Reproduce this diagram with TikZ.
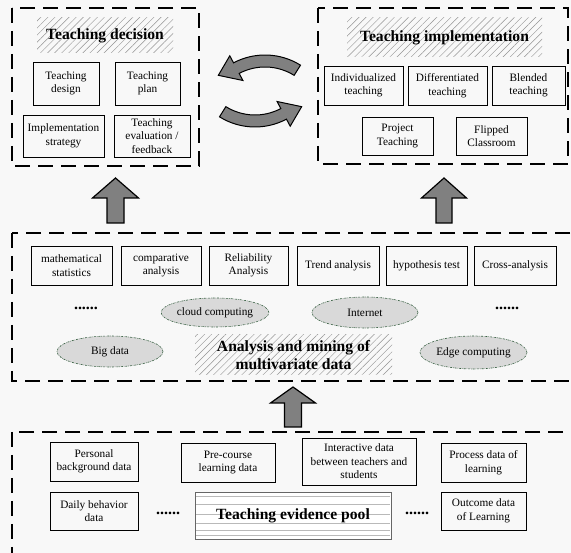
\documentclass[tikz,border=0pt]{standalone}
\usepackage{fontspec}
\setmainfont{Liberation Serif}
\usetikzlibrary{shapes.geometric,patterns.meta}
\definecolor{bgcol}{RGB}{248,248,248}
\definecolor{arrowgray}{RGB}{128,128,128}
\definecolor{ellfill}{RGB}{217,217,217}
\definecolor{elledge}{RGB}{55,95,65}
\begin{document}
\begin{tikzpicture}[x=1pt,y=1pt,yscale=-1,
  zone/.style={draw, line width=2pt, dash pattern=on 15pt off 8pt},
  box/.style={draw, line width=0.9pt, align=center, inner sep=1pt, font=\fontsize{11.3}{13.5}\selectfont},
  headline/.style={pattern={Lines[angle=45,distance=5pt,line width=0.45pt]}, pattern color=gray!85, align=center, inner sep=0pt, font=\fontsize{15.6}{18}\selectfont\bfseries},
  techell/.style={ellipse, draw=elledge, fill=ellfill, line width=0.6pt, dash pattern=on 2pt off 1pt on 0.5pt off 1pt, inner sep=0pt, font=\fontsize{11.3}{13.5}\selectfont},
  moredots/.style={inner sep=0pt, font=\fontsize{16}{16}\selectfont\bfseries},
  block/.style={draw, line width=1.2pt, fill=arrowgray, line join=miter},
]
\useasboundingbox (0,0) rectangle (571,553);
\fill[bgcol] (0,0) rectangle (571,553);

%Shape: Dashed frames
\draw[zone] (12,8) rectangle (199,166);
\draw[zone] (318,8) rectangle (568,164);
\draw[zone] (12,233) rectangle (580,381);
\draw[zone] (12,432) rectangle (580,553.6);

% Teaching decision
\node[headline, minimum width=136pt, minimum height=35pt] (decTitle) at (105,35.5) {Teaching decision};
\node[box, minimum width=66pt, minimum height=43pt] (tDesign) at (66,83.5) {Teaching\\design};
\node[box, minimum width=65pt, minimum height=43pt] (tPlan) at (147.5,83.5) {Teaching\\plan};
\node[box, minimum width=81pt, minimum height=42pt] (implStrat) at (63.5,136) {Implementation\\strategy};
\node[box, minimum width=76pt, minimum height=42pt] (tEval) at (152,136) {Teaching\\evaluation /\\feedback};

% Teaching implementation
\node[headline, minimum width=195pt, minimum height=39pt] (implTitle) at (444.5,37.5) {Teaching implementation};
\node[box, minimum width=79pt, minimum height=39pt] (indiv) at (363.5,85.5) {Individualized\\teaching};
\node[box, minimum width=79pt, minimum height=39pt] (differ) at (447.5,85.5) {Differentiated\\teaching};
\node[box, minimum width=73pt, minimum height=39pt] (blend) at (528.5,85.5) {Blended\\teaching};
\node[box, minimum width=71pt, minimum height=38pt] (project) at (397.5,136) {Project\\Teaching};
\node[box, minimum width=71pt, minimum height=38pt] (flipped) at (491.5,136) {Flipped\\Classroom};

%Shape: Circular arrows
\draw[block, line width=1pt] ([shift={(-58:67)}]265,122) arc[start angle=-58, end angle=-118, radius=67]
  -- ([shift={(-118:75)}]265,122) -- ([shift={(-135:66)}]265,122) -- ([shift={(-118:47)}]265,122)
  -- ([shift={(-118:55)}]265,122) arc[start angle=-118, end angle=-58, radius=55] -- cycle;
\draw[block, line width=1pt] ([shift={(122:67)}]255,60) arc[start angle=122, end angle=62, radius=67]
  -- ([shift={(62:75)}]255,60) -- ([shift={(45:66)}]255,60) -- ([shift={(62:47)}]255,60)
  -- ([shift={(62:55)}]255,60) arc[start angle=62, end angle=122, radius=55] -- cycle;

%Shape: Up arrows
\draw[block] (107,223) -- (107,198) -- (92.5,198) -- (115.5,178) -- (138.5,198) -- (124,198) -- (124,223) -- cycle;
\draw[block] (436,223) -- (436,198) -- (421.5,198) -- (444,178) -- (466.5,198) -- (452,198) -- (452,223) -- cycle;
\draw[block] (284.5,427) -- (284.5,403) -- (270.5,403) -- (293,387) -- (315.5,403) -- (301.5,403) -- (301.5,427) -- cycle;

% Analysis and mining
\node[box, minimum width=81pt, minimum height=39pt] (mathStat) at (71.5,265.5) {mathematical\\statistics};
\node[box, minimum width=80pt, minimum height=39pt] (compAna) at (161,265.5) {comparative\\analysis};
\node[box, minimum width=79pt, minimum height=39pt] (reliab) at (248.5,265.5) {Reliability\\Analysis};
\node[box, minimum width=82pt, minimum height=39pt] (trend) at (338,265.5) {Trend analysis};
\node[box, minimum width=81pt, minimum height=39pt] (hypo) at (426.5,265.5) {hypothesis test};
\node[box, minimum width=82pt, minimum height=39pt] (cross) at (515,265.5) {Cross-analysis};
\node[moredots] (dotsL) at (86,308) {......};
\node[moredots] (dotsR) at (507,308) {......};
\node[techell, minimum width=106pt, minimum height=29pt] (cloudComp) at (215,312.5) {cloud computing};
\node[techell, minimum width=106pt, minimum height=31pt] (internet) at (365,312.5) {Internet};
\node[techell, minimum width=106pt, minimum height=31pt] (bigData) at (110,351.5) {Big data};
\node[techell, minimum width=107pt, minimum height=33pt] (edgeComp) at (473.5,352.5) {Edge computing};
\node[headline, minimum width=197pt, minimum height=40pt] (anaTitle) at (293.5,355) {Analysis and mining of\\multivariate data};

% Teaching evidence pool
\node[box, minimum width=88pt, minimum height=39pt] (personal) at (94,461.5) {Personal\\background data};
\node[box, minimum width=94pt, minimum height=39pt] (preCourse) at (228,462.5) {Pre-course\\learning data};
\node[box, minimum width=114pt, minimum height=47pt] (interact) at (359,461.5) {Interactive data\\between teachers and\\students};
\node[box, minimum width=85pt, minimum height=39pt] (process) at (483.5,462.5) {Process data of\\learning};
\node[box, minimum width=88pt, minimum height=38pt] (daily) at (94,511) {Daily behavior\\data};
\node[box, minimum width=85pt, minimum height=38pt] (outcome) at (483.5,511) {Outcome data\\of Learning};
\node[moredots] (dotsPoolL) at (168,513) {......};
\node[moredots] (dotsPoolR) at (417,513) {......};
\node[box, fill=white, draw=gray!80!black, minimum width=196pt, minimum height=47pt] (pool) at (293,515.5) {};
\foreach \yy in {496,504,514,523,530,535}
  \draw[gray!55, line width=0.7pt] (196,\yy) -- (390,\yy);
\node[inner sep=0pt, font=\fontsize{15.6}{18}\selectfont\bfseries] (poolText) at (pool.center) {Teaching evidence pool};

\end{tikzpicture}
\end{document}
